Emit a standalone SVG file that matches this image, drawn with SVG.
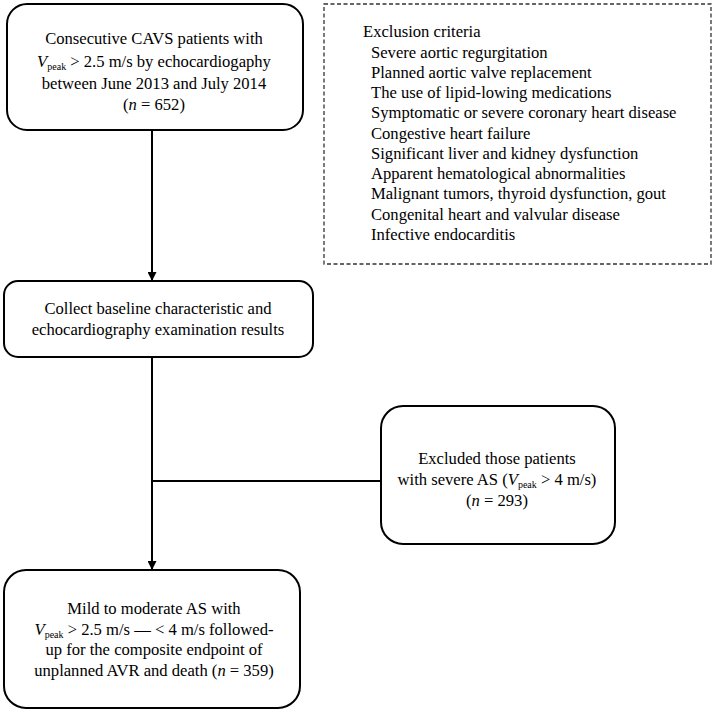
<svg xmlns="http://www.w3.org/2000/svg" width="714" height="712" viewBox="0 0 714 712">
<defs>
<style>
.box{fill:#fff;stroke:#000;stroke-width:2}
.dash{fill:none;stroke:#333;stroke-width:1.3;stroke-dasharray:4 2.5}
.t{font-family:"Liberation Serif","Times New Roman",serif;font-size:16.6px;fill:#000}
.c{text-anchor:middle}
.sub{font-size:10px}
.conn{stroke:#000;stroke-width:2;fill:none}
</style>
<marker id="arr" viewBox="0 0 10 10" refX="10" refY="5" markerWidth="4.5" markerHeight="4.5" markerUnits="strokeWidth" orient="auto">
<path d="M0,0 L10,5 L0,10 z" fill="#000"/>
</marker>
</defs>
<g id="connectors">
<line class="conn" x1="152" y1="130" x2="152" y2="281" marker-end="url(#arr)"/>
<line class="conn" x1="152" y1="357" x2="152" y2="570" marker-end="url(#arr)"/>
<line class="conn" x1="152" y1="481" x2="381" y2="481" stroke-width="3"/>
</g>
<g id="n1">
<rect class="box" x="7" y="4" width="296" height="126" rx="20"/>
<text class="t c" x="154" y="44">Consecutive CAVS patients with</text>
<text class="t c" x="154" y="67"><tspan font-style="italic">V</tspan><tspan class="sub" dy="3">peak</tspan><tspan dy="-3"> &gt; 2.5 m/s by echocardiogaphy</tspan></text>
<text class="t c" x="154" y="89">between June 2013 and July 2014</text>
<text class="t c" x="154" y="110">(<tspan font-style="italic">n</tspan> = 652)</text>
</g>
<g id="exclusion">
<rect class="dash" x="324" y="4" width="387" height="260"/>
<text class="t" x="363" y="37">Exclusion criteria</text>
<text class="t" x="371" y="58">Severe aortic regurgitation</text>
<text class="t" x="371" y="78">Planned aortic valve replacement</text>
<text class="t" x="371" y="98">The use of lipid-lowing medications</text>
<text class="t" x="371" y="118">Symptomatic or severe coronary heart disease</text>
<text class="t" x="371" y="139">Congestive heart failure</text>
<text class="t" x="371" y="159">Significant liver and kidney dysfunction</text>
<text class="t" x="371" y="179">Apparent hematological abnormalities</text>
<text class="t" x="371" y="199">Malignant tumors, thyroid dysfunction, gout</text>
<text class="t" x="371" y="220">Congenital heart and valvular disease</text>
<text class="t" x="371" y="240">Infective endocarditis</text>
</g>
<g id="n2">
<rect class="box" x="4" y="281" width="309" height="76" rx="14"/>
<text class="t c" x="158" y="314" font-size="17.4">Collect baseline characteristic and</text>
<text class="t c" x="158" y="335" font-size="17.4">echocardiography examination results</text>
</g>
<g id="n3">
<rect class="box" x="381" y="406" width="234" height="138" rx="22"/>
<text class="t c" x="497" y="464">Excluded those patients</text>
<text class="t c" x="497" y="485">with severe AS (<tspan font-style="italic">V</tspan><tspan class="sub" dy="3">peak</tspan><tspan dy="-3"> &gt; 4 m/s)</tspan></text>
<text class="t c" x="497" y="506">(<tspan font-style="italic">n</tspan> = 293)</text>
</g>
<g id="n4">
<rect class="box" x="4" y="570" width="296" height="138" rx="22"/>
<text class="t c" x="154" y="614">Mild to moderate AS with</text>
<text class="t c" x="154" y="635"><tspan font-style="italic">V</tspan><tspan class="sub" dy="3">peak</tspan><tspan dy="-3"> &gt; 2.5 m/s — &lt; 4 m/s followed-</tspan></text>
<text class="t c" x="154" y="655">up for the composite endpoint of</text>
<text class="t c" x="154" y="676">unplanned AVR and death (<tspan font-style="italic">n</tspan> = 359)</text>
</g>
</svg>
